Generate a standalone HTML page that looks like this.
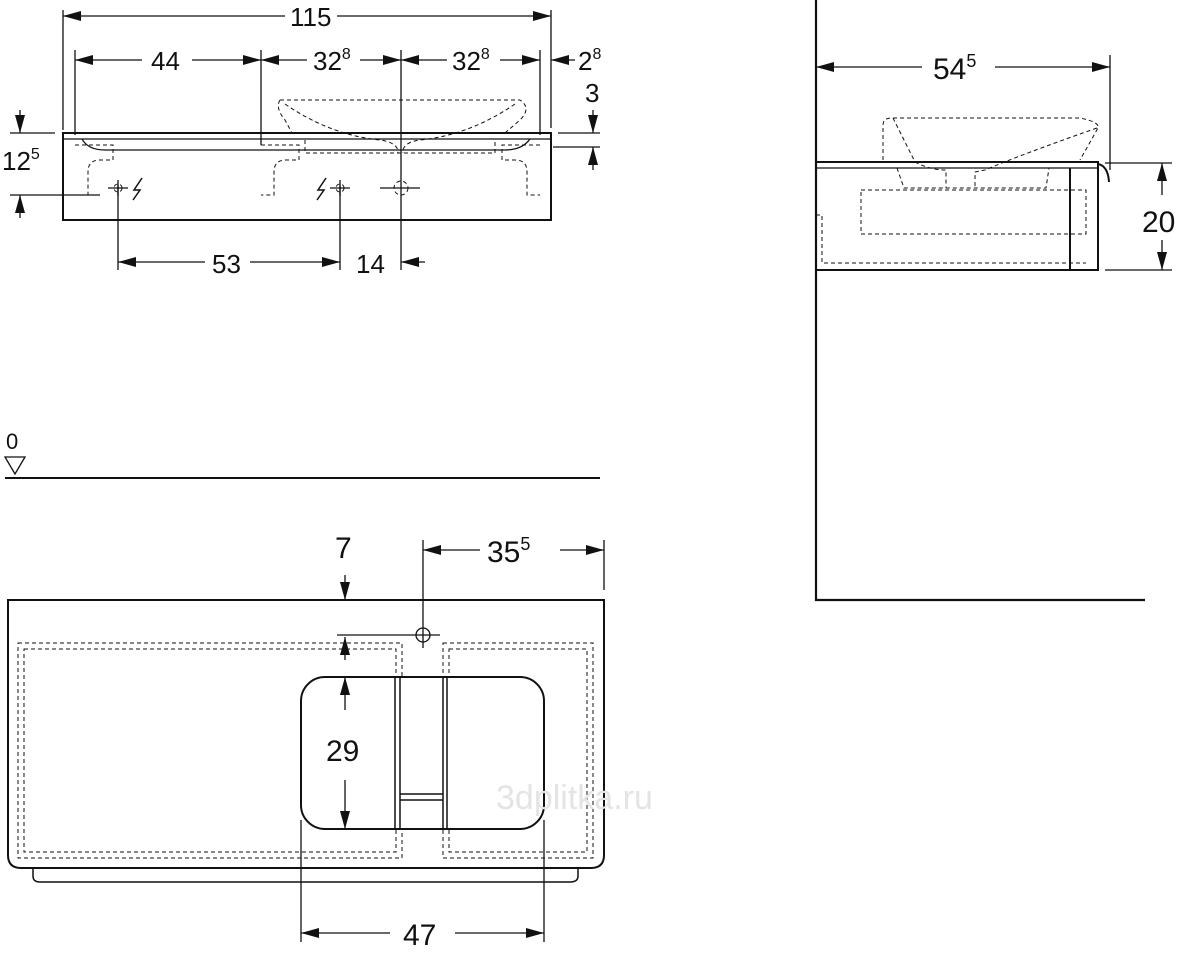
<!DOCTYPE html>
<html><head><meta charset="utf-8"><style>body{margin:0;background:#fff}svg{display:block}text{font-family:"Liberation Sans",sans-serif;fill:#111}</style></head><body>
<svg width="1184" height="956" viewBox="0 0 1184 956" xmlns="http://www.w3.org/2000/svg">
<defs><marker id="a" markerWidth="18" markerHeight="10" refX="18" refY="5" orient="auto" markerUnits="userSpaceOnUse"><path d="M0,0 L18,5 L0,10 z" fill="#111"/></marker></defs>
<g stroke="#111" stroke-width="1.3" fill="none">
<!-- top view -->
<rect x="63" y="133" width="488" height="87" stroke-width="2"/>
<line x1="63" y1="139" x2="551" y2="139"/>
<path d="M82,139 Q88,150 105,150 L505,150 Q522,150 530,139"/>
<g stroke-dasharray="4,3" stroke-width="1">
<path d="M75,145 H113 V160 H100 Q88,160 88,172 V195 H75"/>
<path d="M261,145 H299 V160 H286 Q274,160 274,172 V195 H261"/>
<path d="M540,145 H502 V160 H515 Q527,160 527,172 V195 H540"/>
<path d="M280,100 Q275,108 285,120 L292,133 M280,100 H520 Q532,108 520,120 L505,133 M285,104 Q330,135 380,140 Q395,142 398,150 V153 M515,104 Q470,135 420,140 Q405,142 403,150 V153 M305,140 V153 H495 V140"/>
<circle cx="401" cy="188" r="7"/>
<circle cx="118" cy="188" r="4"/><circle cx="340" cy="188" r="4"/>
</g>
<path d="M108,188 H128 M118,180 V196 M330,188 H350 M340,180 V196 M380,188 H420"/>
<path d="M142,178 L134,190 L140,190 L133,200" stroke-width="1.5"/><path d="M326,178 L318,190 L324,190 L317,200" stroke-width="1.5"/>
<line x1="63" y1="10" x2="63" y2="130"/><line x1="551" y1="10" x2="551" y2="128"/>
<line x1="75" y1="50" x2="75" y2="135"/><line x1="261" y1="50" x2="261" y2="145"/><line x1="401" y1="50" x2="401" y2="270"/><line x1="540" y1="50" x2="540" y2="135"/>
<line x1="118" y1="185" x2="118" y2="270"/><line x1="340" y1="185" x2="340" y2="270"/>
<line x1="285" y1="16" x2="63" y2="16" marker-end="url(#a)"/><line x1="337" y1="16" x2="551" y2="16" marker-end="url(#a)"/>
<line x1="142" y1="60" x2="75" y2="60" marker-end="url(#a)"/><line x1="192" y1="60" x2="261" y2="60" marker-end="url(#a)"/>
<line x1="307" y1="60" x2="261" y2="60" marker-end="url(#a)"/><line x1="360" y1="60" x2="401" y2="60" marker-end="url(#a)"/>
<line x1="447" y1="60" x2="401" y2="60" marker-end="url(#a)"/><line x1="500" y1="60" x2="540" y2="60" marker-end="url(#a)"/>
<line x1="575" y1="60" x2="551" y2="60" marker-end="url(#a)"/>
<line x1="593" y1="110" x2="593" y2="133" marker-end="url(#a)"/><line x1="593" y1="170" x2="593" y2="147" marker-end="url(#a)"/>
<line x1="558" y1="133" x2="600" y2="133"/><line x1="553" y1="147" x2="600" y2="147"/>
<line x1="20" y1="110" x2="20" y2="133" marker-end="url(#a)"/><line x1="20" y1="218" x2="20" y2="195" marker-end="url(#a)"/>
<line x1="10" y1="133" x2="55" y2="133"/><line x1="10" y1="195" x2="100" y2="195"/>
<line x1="205" y1="262" x2="118" y2="262" marker-end="url(#a)"/><line x1="250" y1="262" x2="340" y2="262" marker-end="url(#a)"/>
<line x1="425" y1="262" x2="401" y2="262" marker-end="url(#a)"/>
<!-- floor -->
<path d="M5,457 H25 L15,474 z"/><line x1="5" y1="478" x2="600" y2="478" stroke-width="2"/>
<!-- side -->
<path d="M816,0 V600 H1145" stroke-width="2.2"/>
<rect x="816" y="162" width="282" height="108" stroke-width="2"/>
<line x1="816" y1="168" x2="1098" y2="168"/><line x1="1070" y1="168" x2="1070" y2="270" stroke-width="2"/>
<path d="M1098,164 Q1108,166 1109,182" stroke-width="2"/>
<g stroke-dasharray="4,3" stroke-width="1">
<path d="M883,160 V125 Q883,118 892,118 H1080 Q1100,122 1098,128 L1080,160 M893,118 L915,162 Q930,170 946,170 V188 M1097,128 Q1020,155 985,170 L975,172 V188"/>
<path d="M897,168 L904,188 H1046 L1049,168"/>
<rect x="861" y="190" width="225" height="44"/>
<path d="M816,215 H822 V263 H1086"/>
</g>
<line x1="1110" y1="55" x2="1110" y2="170"/>
<line x1="922" y1="67" x2="816" y2="67" marker-end="url(#a)"/><line x1="995" y1="67" x2="1110" y2="67" marker-end="url(#a)"/>
<line x1="1105" y1="163" x2="1172" y2="163"/><line x1="1105" y1="270" x2="1172" y2="270"/>
<line x1="1162" y1="195" x2="1162" y2="163" marker-end="url(#a)"/><line x1="1162" y1="240" x2="1162" y2="270" marker-end="url(#a)"/>
<!-- bottom view -->
<path d="M8,600 H604 V855 Q604,868 591,868 H21 Q8,868 8,855 Z" stroke-width="2"/>
<path d="M33,868 V876 Q33,882 40,882 H570 Q578,882 578,876 V868" stroke-width="1.5"/>
<g stroke-dasharray="4,3" stroke-width="1">
<rect x="18" y="643" width="384" height="215"/><rect x="24" y="649" width="372" height="203"/>
<rect x="443" y="643" width="150" height="215"/><rect x="449" y="649" width="138" height="203"/>
</g>
<rect x="301" y="677" width="243" height="152" rx="24" fill="#fff" stroke-width="2"/>
<path d="M395,677 V829 M400,677 V829 M443,677 V829 M447,677 V829 M400,794 H443 M400,800 H443" stroke-width="1.5"/>
<circle cx="423" cy="635" r="7"/><line x1="337" y1="635" x2="440" y2="635"/>
<line x1="423" y1="540" x2="423" y2="648"/><line x1="604" y1="540" x2="604" y2="590"/>
<line x1="345" y1="575" x2="345" y2="600" marker-end="url(#a)"/>
<line x1="480" y1="550" x2="423" y2="550" marker-end="url(#a)"/><line x1="560" y1="550" x2="604" y2="550" marker-end="url(#a)"/>
<line x1="345" y1="660" x2="345" y2="637" marker-end="url(#a)"/>
<line x1="345" y1="710" x2="345" y2="677" marker-end="url(#a)"/><line x1="345" y1="780" x2="345" y2="829" marker-end="url(#a)"/>
<line x1="301" y1="820" x2="301" y2="942"/><line x1="544" y1="820" x2="544" y2="942"/>
<line x1="390" y1="933" x2="301" y2="933" marker-end="url(#a)"/><line x1="455" y1="933" x2="544" y2="933" marker-end="url(#a)"/>
</g>
<g font-size="26">
<text x="290" y="26">115</text>
<text x="151" y="70">44</text>
<text x="313" y="70">32<tspan font-size="16" dy="-11">8</tspan></text>
<text x="452" y="70">32<tspan font-size="16" dy="-11">8</tspan></text>
<text x="578" y="70">2<tspan font-size="16" dy="-11">8</tspan></text>
<text x="585" y="102">3</text>
<text x="2" y="170">12<tspan font-size="16" dy="-11">5</tspan></text>
<text x="212" y="273">53</text>
<text x="356" y="273">14</text>
<text x="6" y="449" font-size="22">0</text>
<text x="933" y="79" font-size="30">54<tspan font-size="18" dy="-12">5</tspan></text>
<text x="1142" y="232" font-size="30">20</text>
<text x="335" y="558" font-size="30">7</text>
<text x="487" y="562" font-size="30">35<tspan font-size="18" dy="-12">5</tspan></text>
<text x="326" y="761" font-size="30">29</text>
<text x="403" y="945" font-size="30">47</text>
<text x="496" y="809" font-size="34" style="fill:#e4e4e4">3dplitka.ru</text>
</g>
</svg>
</body></html>
